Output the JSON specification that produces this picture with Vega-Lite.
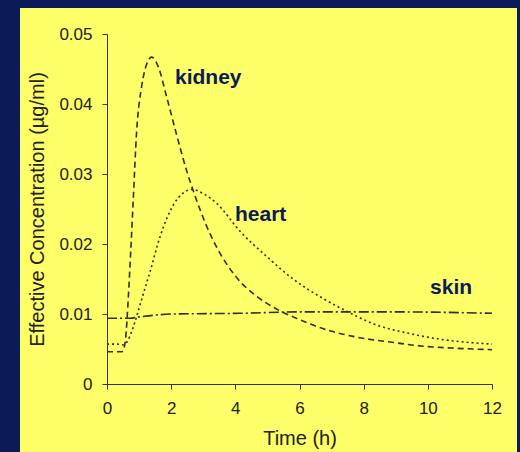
{
  "$schema": "https://vega.github.io/schema/vega-lite/v6.json",
  "width": 385,
  "height": 350,
  "autosize": "none",
  "padding": {"left": 107, "top": 34, "right": 28, "bottom": 68},
  "background": "#0b1b57",
  "config": {
    "view": {"stroke": null},
    "font": "Liberation Sans",
    "axis": {
      "domainColor": "#333333",
      "domainWidth": 1,
      "tickColor": "#333333",
      "tickSize": 5,
      "grid": false,
      "labelFlush": false,
      "labelFont": "Liberation Sans",
      "labelFontSize": 17,
      "labelColor": "#222222",
      "titleFont": "Liberation Sans",
      "titleFontSize": 20,
      "titleFontWeight": "normal",
      "titleColor": "#222222"
    }
  },
  "datasets": {
    "curves": [
      {"tissue": "kidney", "t": 0, "c": 0.0046},
      {"tissue": "kidney", "t": 0.25, "c": 0.0046},
      {"tissue": "kidney", "t": 0.46, "c": 0.0046},
      {"tissue": "kidney", "t": 0.52, "c": 0.0050},
      {"tissue": "kidney", "t": 0.58, "c": 0.0065},
      {"tissue": "kidney", "t": 0.66, "c": 0.0120},
      {"tissue": "kidney", "t": 0.74, "c": 0.0190},
      {"tissue": "kidney", "t": 0.82, "c": 0.0265},
      {"tissue": "kidney", "t": 0.92, "c": 0.0358},
      {"tissue": "kidney", "t": 1.08, "c": 0.0425},
      {"tissue": "kidney", "t": 1.23, "c": 0.0456},
      {"tissue": "kidney", "t": 1.39, "c": 0.0467},
      {"tissue": "kidney", "t": 1.6, "c": 0.0453},
      {"tissue": "kidney", "t": 1.86, "c": 0.0410},
      {"tissue": "kidney", "t": 2.17, "c": 0.0356},
      {"tissue": "kidney", "t": 2.48, "c": 0.0305},
      {"tissue": "kidney", "t": 2.75, "c": 0.0268},
      {"tissue": "kidney", "t": 3.1, "c": 0.0226},
      {"tissue": "kidney", "t": 3.52, "c": 0.0187},
      {"tissue": "kidney", "t": 4.04, "c": 0.0152},
      {"tissue": "kidney", "t": 4.67, "c": 0.0125},
      {"tissue": "kidney", "t": 5.29, "c": 0.0107},
      {"tissue": "kidney", "t": 5.9, "c": 0.0094},
      {"tissue": "kidney", "t": 6.74, "c": 0.0079},
      {"tissue": "kidney", "t": 7.78, "c": 0.0067},
      {"tissue": "kidney", "t": 8.82, "c": 0.0060},
      {"tissue": "kidney", "t": 9.86, "c": 0.0054},
      {"tissue": "kidney", "t": 10.9, "c": 0.0051},
      {"tissue": "kidney", "t": 12, "c": 0.0049},
      {"tissue": "heart", "t": 0, "c": 0.0057},
      {"tissue": "heart", "t": 0.3, "c": 0.0057},
      {"tissue": "heart", "t": 0.5, "c": 0.0056},
      {"tissue": "heart", "t": 0.66, "c": 0.0063},
      {"tissue": "heart", "t": 0.77, "c": 0.0075},
      {"tissue": "heart", "t": 0.92, "c": 0.0096},
      {"tissue": "heart", "t": 1.03, "c": 0.0113},
      {"tissue": "heart", "t": 1.18, "c": 0.0136},
      {"tissue": "heart", "t": 1.34, "c": 0.0160},
      {"tissue": "heart", "t": 1.65, "c": 0.0210},
      {"tissue": "heart", "t": 2.07, "c": 0.0256},
      {"tissue": "heart", "t": 2.35, "c": 0.0272},
      {"tissue": "heart", "t": 2.64, "c": 0.0278},
      {"tissue": "heart", "t": 3.0, "c": 0.0272},
      {"tissue": "heart", "t": 3.42, "c": 0.0258},
      {"tissue": "heart", "t": 4.15, "c": 0.0218},
      {"tissue": "heart", "t": 4.98, "c": 0.0182},
      {"tissue": "heart", "t": 5.8, "c": 0.0150},
      {"tissue": "heart", "t": 6.74, "c": 0.0122},
      {"tissue": "heart", "t": 7.47, "c": 0.0104},
      {"tissue": "heart", "t": 8.3, "c": 0.0086},
      {"tissue": "heart", "t": 9.34, "c": 0.0073},
      {"tissue": "heart", "t": 10.38, "c": 0.0064},
      {"tissue": "heart", "t": 12, "c": 0.0057},
      {"tissue": "skin", "t": 0, "c": 0.0094},
      {"tissue": "skin", "t": 0.7, "c": 0.0094},
      {"tissue": "skin", "t": 1.03, "c": 0.0096},
      {"tissue": "skin", "t": 2.07, "c": 0.0100},
      {"tissue": "skin", "t": 4.15, "c": 0.0101},
      {"tissue": "skin", "t": 6, "c": 0.0103},
      {"tissue": "skin", "t": 9, "c": 0.0103},
      {"tissue": "skin", "t": 12, "c": 0.0101}
    ]
  },
  "layer": [
    {
      "description": "Yellow panel behind the plot and its axes",
      "data": {"values": [{}]},
      "mark": {"type": "rect", "color": "#fefe68", "clip": false},
      "encoding": {
        "x": {"datum": -2.712, "type": "quantitative", "scale": {"domain": [0, 12], "nice": false, "zero": false}},
        "x2": {"datum": 12.779},
        "y": {"datum": 0.0537, "type": "quantitative", "scale": {"domain": [0, 0.05], "nice": false, "zero": false}},
        "y2": {"datum": -0.012}
      }
    },
    {
      "data": {"name": "curves"},
      "mark": {"type": "line", "interpolate": "monotone", "strokeWidth": 1.6, "color": "#2e2e24"},
      "encoding": {
        "x": {
          "field": "t", "type": "quantitative",
          "scale": {"domain": [0, 12], "nice": false, "zero": false},
          "axis": {"title": "Time (h)", "values": [0, 2, 4, 6, 8, 10, 12], "labelPadding": 11, "titlePadding": 12, "zindex": 1}
        },
        "y": {
          "field": "c", "type": "quantitative",
          "scale": {"domain": [0, 0.05], "nice": false, "zero": false},
          "axis": {
            "title": "Effective Concentration (\u00b5g/ml)",
            "values": [0, 0.01, 0.02, 0.03, 0.04, 0.05],
            "labelExpr": "datum.value == 0 ? '0' : format(datum.value, '.2f')",
            "labelPadding": 10,
            "titlePadding": 11,
            "zindex": 1
          }
        },
        "detail": {"field": "tissue"},
        "strokeDash": {
          "field": "tissue", "type": "nominal",
          "scale": {"domain": ["kidney", "heart", "skin"], "range": [[6, 4], [2, 3], [10, 3, 2, 3]]},
          "legend": null
        }
      }
    },
    {
      "data": {"values": [{}]},
      "mark": {"type": "text", "align": "left", "baseline": "alphabetic", "fontSize": 21, "fontWeight": "bold", "color": "#0b1b57"},
      "encoding": {
        "x": {"datum": 2.12, "type": "quantitative"},
        "y": {"datum": 0.0429, "type": "quantitative"},
        "text": {"value": "kidney"}
      }
    },
    {
      "data": {"values": [{}]},
      "mark": {"type": "text", "align": "left", "baseline": "alphabetic", "fontSize": 21, "fontWeight": "bold", "color": "#0b1b57"},
      "encoding": {
        "x": {"datum": 3.99, "type": "quantitative"},
        "y": {"datum": 0.0233, "type": "quantitative"},
        "text": {"value": "heart"}
      }
    },
    {
      "data": {"values": [{}]},
      "mark": {"type": "text", "align": "left", "baseline": "alphabetic", "fontSize": 21, "fontWeight": "bold", "color": "#0b1b57"},
      "encoding": {
        "x": {"datum": 10.07, "type": "quantitative"},
        "y": {"datum": 0.0129, "type": "quantitative"},
        "text": {"value": "skin"}
      }
    }
  ]
}
